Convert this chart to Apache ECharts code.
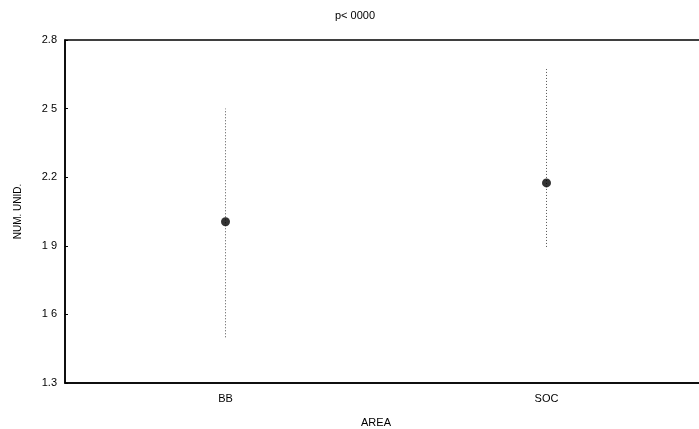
<!DOCTYPE html>
<html><head><meta charset="utf-8">
<script src="https://cdn.jsdelivr.net/npm/echarts@6/dist/echarts.min.js"></script>
<style>html,body{margin:0;padding:0;background:#fff}#c{width:699px;height:429px}</style>
</head><body><div id="c"></div>
<script>
var categories = ['BB', 'SOC'];
var means = [2.005, 2.175];
var lower = [1.5, 1.895];
var upper = [2.5, 2.673];
var yTickValues = [1.3, 1.6, 1.9, 2.2, 2.5, 2.8];
var yTickLabels = ['1.3', '1 6', '1 9', '2.2', '2 5', '2.8'];
var titleText = 'p< 0000';
var yName = 'NUM. UNID.';
var xName = 'AREA';

var font = 'Liberation Sans, Arial, sans-serif';
var chart = echarts.init(document.getElementById('c'));
var errData = categories.map(function (c, i) { return [i, lower[i], upper[i]]; });
chart.setOption({
  animation: false,
  title: { text: titleText, left: 350, top: 5, textAlign: 'center',
    textStyle: { fontFamily: font, fontSize: 11, fontWeight: 'normal', color: '#000' } },
  grid: { left: 65, top: 40, width: 642, height: 343, show: true, borderColor: '#000', borderWidth: 1.5,
    outerBoundsMode: 'none', containLabel: false },
  xAxis: {
    type: 'category', data: categories,
    axisLine: { lineStyle: { color: '#000', width: 1.5 } },
    axisTick: { show: false },
    axisLabel: { fontFamily: font, fontSize: 11, color: '#000', margin: 10 },
    name: xName, nameLocation: 'middle', nameGap: 34,
    nameTextStyle: { fontFamily: font, fontSize: 11, color: '#000', padding: [0, 20, 0, 0] }
  },
  yAxis: {
    type: 'value', min: 1.3, max: 2.8, interval: 0.3,
    axisLine: { show: true, lineStyle: { color: '#000', width: 1.5 } },
    axisTick: { show: true, inside: true, length: 3, lineStyle: { color: '#000' } },
    splitLine: { show: false },
    axisLabel: { fontFamily: font, fontSize: 11, color: '#000', margin: 8,
      formatter: function (v) {
        for (var i = 0; i < yTickValues.length; i++) if (Math.abs(v - yTickValues[i]) < 1e-6) return yTickLabels[i];
        return '';
      } },
    name: yName, nameLocation: 'middle', nameGap: 42, nameRotate: 90,
    nameTextStyle: { fontFamily: font, fontSize: 10, color: '#000' }
  },
  series: [
    {
      type: 'custom', data: errData,
      renderItem: function (params, api) {
        var lo = api.coord([api.value(0), api.value(1)]);
        var hi = api.coord([api.value(0), api.value(2)]);
        return { type: 'line', shape: { x1: lo[0], y1: lo[1], x2: hi[0], y2: hi[1] },
          style: { stroke: '#555', lineWidth: 1, lineDash: [1, 2] } };
      },
      z: 2
    },
    {
      type: 'scatter', data: means.map(function (m, i) { return [i, m]; }),
      symbol: 'circle', symbolSize: 9, itemStyle: { color: '#000' }, z: 3
    }
  ]
});
</script></body></html>
